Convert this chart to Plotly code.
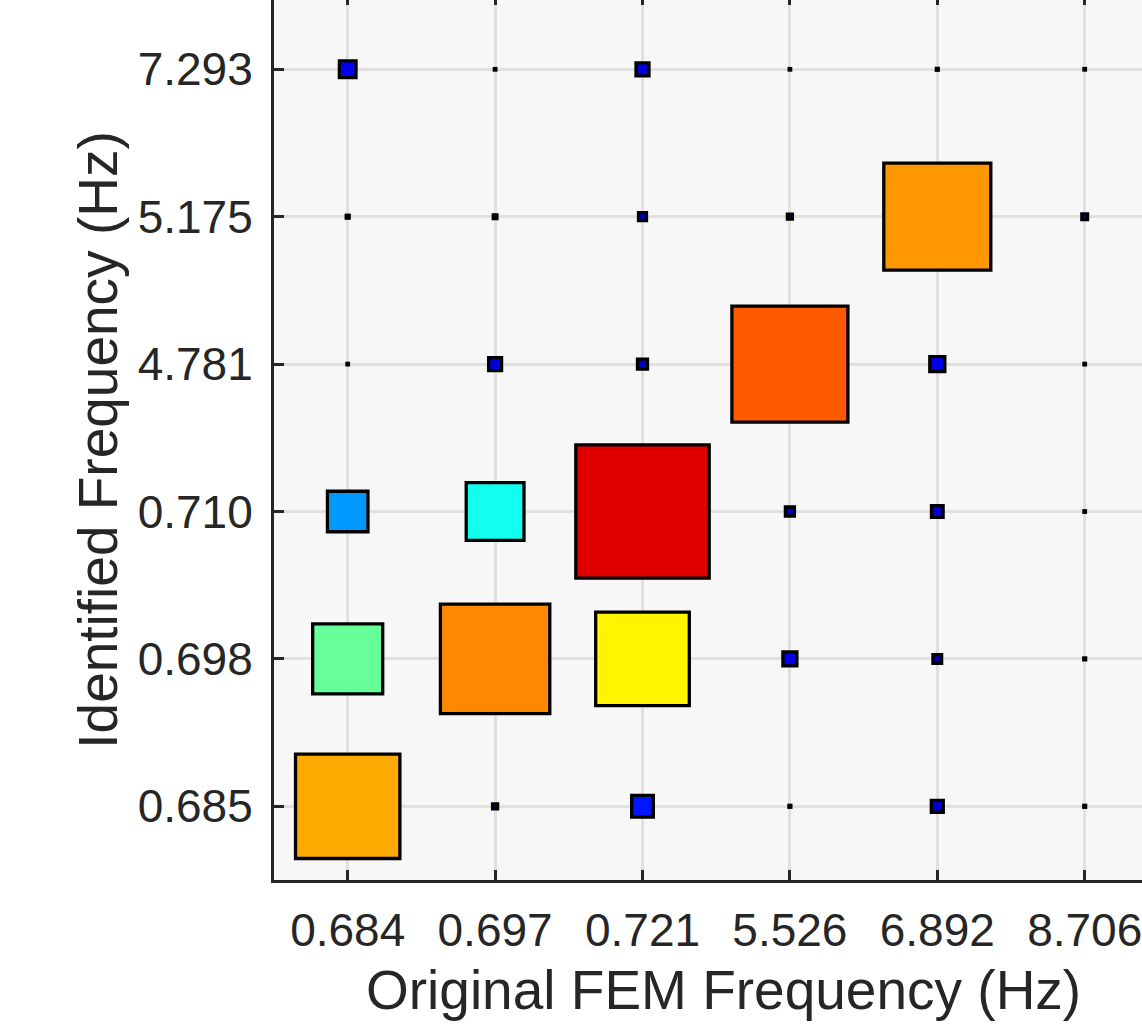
import plotly.graph_objects as go

# Categories
fem_freq = ["0.684", "0.697", "0.721", "5.526", "6.892", "8.706"]      # x (Original FEM)
id_freq = ["0.685", "0.698", "0.710", "4.781", "5.175", "7.293"]       # y (Identified)

# MAC-like values, one list per identified-frequency row (columns follow fem_freq)
row_0685 = [0.708, 0.034, 0.147, 0.013, 0.081, 0.013]
row_0698 = [0.475, 0.742, 0.635, 0.095, 0.059, 0.013]
row_0710 = [0.275, 0.392, 0.905, 0.061, 0.079, 0.010]
row_4781 = [0.010, 0.088, 0.068, 0.787, 0.102, 0.010]
row_5175 = [0.020, 0.025, 0.054, 0.034, 0.726, 0.039]
row_7293 = [0.113, 0.010, 0.088, 0.010, 0.013, 0.010]

rows = [row_0685, row_0698, row_0710, row_4781, row_5175, row_7293]

W, H = 1142, 1029
L, B, T, R = 274, 149, 0, 0
cell = 147.4
x_rng = [-0.5, -0.5 + (W - L - R) / cell]
y_rng = [-0.5, -0.5 + (H - B - T) / cell]

jet = [
    [0.0, "rgb(0,0,128)"],
    [0.125, "rgb(0,0,255)"],
    [0.375, "rgb(0,255,255)"],
    [0.625, "rgb(255,255,0)"],
    [0.875, "rgb(255,0,0)"],
    [1.0, "rgb(128,0,0)"],
]

xs, ys, vs = [], [], []
for j, row in enumerate(rows):
    for i, v in enumerate(row):
        xs.append(i)
        ys.append(j)
        vs.append(v)

line_w = 3.3
fig = go.Figure()
fig.add_trace(go.Scatter(
    x=xs, y=ys, mode="markers",
    marker=dict(
        symbol="square",
        size=[v * cell for v in vs],
        sizemode="diameter",
        color=vs, cmin=0, cmax=1, colorscale=jet,
        line=dict(color="black", width=line_w),
        opacity=1,
    ),
    showlegend=False, hoverinfo="skip",
))
# empty helper trace so the top (mirror) tick axis is drawn
fig.add_trace(go.Scatter(x=[None], y=[None], xaxis="x2", mode="markers",
                         showlegend=False, hoverinfo="skip"))

font_fam = "Liberation Sans, Arial, sans-serif"
txt_col = "#262626"
plot_h = H - B - T
plot_w = W - L - R
fig.update_layout(
    width=W, height=H,
    margin=dict(l=L, r=R, t=T, b=B, pad=0),
    paper_bgcolor="white",
    plot_bgcolor="#f7f7f7",
    font=dict(family=font_fam, color=txt_col),
    xaxis=dict(
        range=x_rng, tickmode="array", tickvals=list(range(len(fem_freq))), ticktext=fem_freq,
        showgrid=True, gridcolor="#e0e0e0", gridwidth=2.5, zeroline=False,
        showline=True, linecolor=txt_col, linewidth=3,
        ticks="inside", ticklen=10, tickwidth=3, tickcolor=txt_col,
        tickfont=dict(size=46, color=txt_col), ticklabelstandoff=8,
        ticklabeloverflow="allow",
    ),
    xaxis2=dict(
        range=x_rng, overlaying="x", side="top", tickmode="array",
        tickvals=list(range(len(fem_freq))), showticklabels=False, showgrid=False, zeroline=False,
        showline=False, ticks="inside", ticklen=5, tickwidth=3, tickcolor=txt_col,
    ),
    yaxis=dict(
        range=y_rng, tickmode="array", tickvals=list(range(len(id_freq))), ticktext=id_freq,
        showgrid=True, gridcolor="#e0e0e0", gridwidth=2.5, zeroline=False,
        showline=True, linecolor=txt_col, linewidth=3,
        ticks="inside", ticklen=10, tickwidth=3, tickcolor=txt_col,
        tickfont=dict(size=46, color=txt_col), ticklabelstandoff=9,
        ticklabeloverflow="allow",
        title=dict(text="Identified Frequency (Hz)", font=dict(size=55, color=txt_col), standoff=3),
    ),
    annotations=[dict(
        text="Original FEM Frequency (Hz)", xref="paper", yref="paper",
        x=(723 - L) / plot_w, y=(plot_h - 990) / plot_h,
        xanchor="center", yanchor="middle", showarrow=False,
        font=dict(size=55, color=txt_col, family=font_fam),
    )],
)
fig.write_html(
    "out.html",
    config={"displayModeBar": False},
    post_script="document.body.style.margin='0';document.body.style.overflow='hidden';",
)
